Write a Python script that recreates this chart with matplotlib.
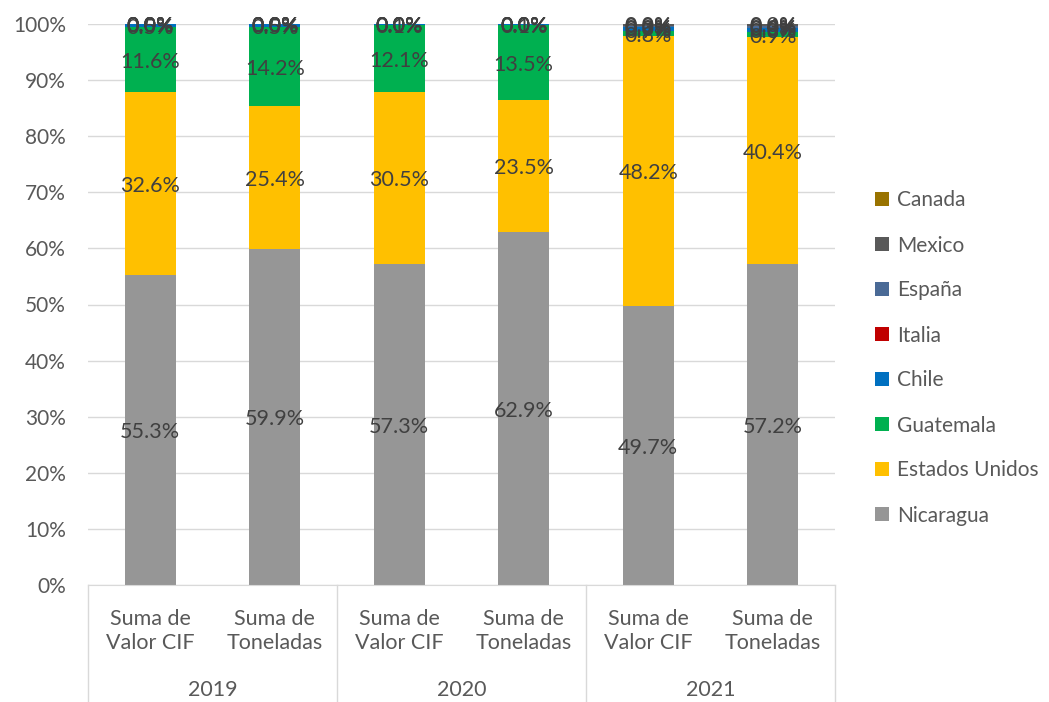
import matplotlib
matplotlib.use("Agg")
import matplotlib.pyplot as plt
import numpy as np
from matplotlib.patches import Patch
from matplotlib.transforms import blended_transform_factory

plt.rcParams['font.family'] = ['Lato', 'DejaVu Sans']

categories = ["Suma de\nValor CIF", "Suma de\nToneladas"] * 3
years = ["2019", "2020", "2021"]
series_names = ["Nicaragua", "Estados Unidos", "Guatemala", "Chile", "Italia", "España", "Mexico", "Canada"]
nicaragua = [55.3, 59.9, 57.3, 62.9, 49.7, 57.2]
estados_unidos = [32.6, 25.4, 30.5, 23.5, 48.2, 40.4]
guatemala = [11.6, 14.2, 12.1, 13.5, 0.8, 0.9]
chile = [0.5, 0.5, 0.1, 0.1, 0.7, 0.8]
italia = [0.0, 0.0, 0.0, 0.0, 0.0, 0.0]
espana = [0.0, 0.0, 0.0, 0.0, 0.3, 0.3]
mexico = [0.0, 0.0, 0.0, 0.0, 0.3, 0.4]
canada = [0.0, 0.0, 0.0, 0.0, 0.0, 0.0]
series = [nicaragua, estados_unidos, guatemala, chile, italia, espana, mexico, canada]
colors = ["#969696", "#FFC000", "#00B050", "#0070C0", "#C00000", "#4A6A96", "#595959", "#997300"]

fig = plt.figure(figsize=(10.49, 7.02), dpi=100)
ax = fig.add_axes([88/1049, 1-585/702, (835-88)/1049, (585-24)/702])

x = np.arange(len(categories))
bottom = np.zeros(len(categories))
for name, vals, c in zip(series_names, series, colors):
    v = np.array(vals)
    ax.bar(x, v, bottom=bottom, width=0.41, color=c, label=name, zorder=2)
    for xi, b, vi in zip(x, bottom, v):
        ax.text(xi, b + vi/2 - 0.4, f"{vi:.1f}%", ha="center", va="center",
                fontsize=15.5, color="#404040", zorder=3)
    bottom += v

ax.set_xlim(-0.5, len(categories) - 0.5)
ax.set_ylim(0, 100)
ax.set_yticks(np.arange(0, 101, 10))
ax.set_yticklabels([f"{t}%" for t in range(0, 101, 10)], fontsize=15, color="#595959")
ax.yaxis.grid(True, color="#D9D9D9", linewidth=1, zorder=0)
ax.set_axisbelow(True)
ax.tick_params(axis="y", length=0, pad=16)
ax.tick_params(axis="x", length=0)
ax.set_xticks([])
for s in ["top", "right", "left"]:
    ax.spines[s].set_visible(False)
ax.spines["bottom"].set_color("#D9D9D9")

trans = blended_transform_factory(ax.transData, ax.transAxes)
for xi, lab in zip(x, categories):
    ax.text(xi, -0.082, lab, transform=trans, ha="center", va="center",
            fontsize=15.5, color="#595959", linespacing=1.25)
for i, yr in enumerate(years):
    ax.text(2*i + 0.5, -0.187, yr, transform=trans, ha="center", va="center",
            fontsize=15.5, color="#595959")
for sx in [-0.5, 1.5, 3.5, 5.5]:
    ax.plot([sx, sx], [0, -0.21], transform=trans, color="#D9D9D9",
            linewidth=1, clip_on=False)

handles = [Patch(facecolor=c, label=n) for n, c in zip(series_names, colors)][::-1]
fig.legend(handles=handles, loc="center left", bbox_to_anchor=(875/1049, 1-358/702),
           frameon=False, fontsize=15, labelcolor="#595959", handlelength=0.65,
           handleheight=0.65, handletextpad=0.4, labelspacing=1.2, borderpad=0,
           borderaxespad=0)

fig.savefig("out.png", dpi=100)
